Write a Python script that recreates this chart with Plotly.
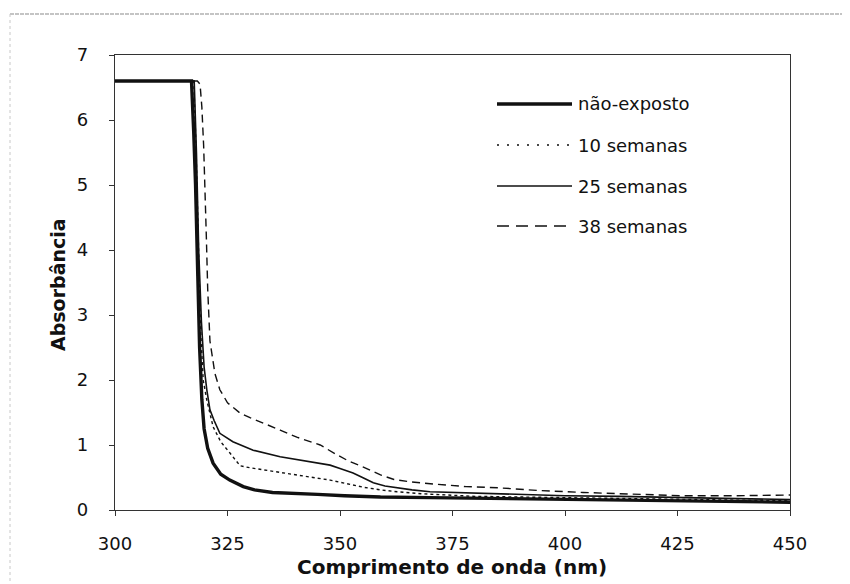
import plotly.graph_objects as go

# ---- data ----
x_nao = [300, 317.0, 317.5, 317.9, 318.4, 318.8, 319.3, 319.8, 320.6, 321.8, 323.5, 325.5, 328.5, 331,
         335, 340, 345, 351, 359, 370, 380, 390, 400, 412, 425, 438, 450]
y_nao = [6.6, 6.6, 5.8, 5.0, 3.6, 2.5, 1.7, 1.25, 0.95, 0.72, 0.55, 0.46, 0.36, 0.31,
         0.27, 0.25, 0.24, 0.22, 0.20, 0.19, 0.18, 0.17, 0.16, 0.15, 0.14, 0.13, 0.12]

x_10 = [300, 317.5, 318.0, 318.5, 319.0, 319.6, 320.4, 321.8, 323.5, 325.5, 327.8, 330, 333, 337, 340.4,
        344, 347.8, 351, 355.2, 359, 362.7, 368, 373.7, 380, 390, 400, 412, 425, 438, 450]
y_10 = [6.6, 6.6, 5.6, 4.0, 2.8, 2.0, 1.69, 1.28, 1.05, 0.88, 0.68, 0.65, 0.62, 0.58, 0.54,
        0.50, 0.46, 0.41, 0.35, 0.31, 0.28, 0.25, 0.23, 0.21, 0.20, 0.19, 0.18, 0.17, 0.15, 0.14]

x_25 = [300, 317.6, 318.1, 318.6, 319.2, 319.8, 320.4, 321.1, 322, 323.3, 326.2, 330.7, 336.7, 340, 344,
        347.8, 350, 352.9, 355, 357.4, 360, 362.7, 366, 370, 375, 380, 390, 400, 412, 425, 438, 450]
y_25 = [6.6, 6.6, 5.5, 4.0, 2.9, 2.2, 1.85, 1.54, 1.38, 1.18, 1.05, 0.92, 0.82, 0.78, 0.74,
        0.69, 0.64, 0.57, 0.50, 0.42, 0.37, 0.34, 0.31, 0.28, 0.27, 0.26, 0.24, 0.22, 0.21, 0.19, 0.17, 0.16]

x_38 = [300, 318.3, 318.9, 319.3, 319.7, 320.0, 320.3, 320.6, 321.1, 322.2, 323.3, 325, 327.8, 330, 332.9,
        336.7, 340.4, 343, 345.6, 349.3, 352, 355.2, 359, 362, 366, 370.7, 373.7, 378, 385.6, 394, 404,
        412, 425.6, 438, 450]
y_38 = [6.6, 6.6, 6.55, 6.2, 5.6, 5.0, 4.2, 3.4, 2.6, 2.1, 1.85, 1.65, 1.49, 1.42, 1.34,
        1.23, 1.12, 1.06, 1.0, 0.85, 0.75, 0.66, 0.54, 0.47, 0.43, 0.40, 0.38, 0.36, 0.34, 0.30, 0.27,
        0.25, 0.22, 0.22, 0.23]

series_names = ["não-exposto", "10 semanas", "25 semanas", "38 semanas"]
x_ticks = [300, 325, 350, 375, 400, 425, 450]
y_ticks = [0, 1, 2, 3, 4, 5, 6, 7]

# ---- layout (page has an 8px body offset) ----
OFF = 8
W, H = 850 - OFF, 584 - OFF
ML, MT = 115 - OFF, 55 - OFF
MR = W - (790 - OFF)
MB = H - (510 - OFF)
FONT = "DejaVu Sans"
INK = "#111111"

styles = [
    dict(width=3.4, dash="solid"),
    dict(width=1.4, dash="3px,3px"),
    dict(width=1.6, dash="solid"),
    dict(width=1.4, dash="8px,5px"),
]
legend_dash = ["solid", "2px,8px", "solid", "12px,7px"]

fig = go.Figure()
for name, xs, ys, st in zip(series_names, [x_nao, x_10, x_25, x_38], [y_nao, y_10, y_25, y_38], styles):
    fig.add_trace(go.Scatter(x=xs, y=ys, mode="lines", name=name,
                             line=dict(color=INK, width=st["width"], dash=st["dash"]),
                             showlegend=False))

pw, ph = W - ML - MR, H - MT - MB


def px2paper(px, py):
    """page pixel -> paper coordinates"""
    return (px - OFF - ML) / pw, (H - MB - (py - OFF)) / ph


shapes = []
annotations = []
# custom legend (long line samples like the original)
rows = [104, 145, 186, 226]
for name, py, st, dsh in zip(series_names, rows, styles, legend_dash):
    x0, y0 = px2paper(497, py)
    x1, _ = px2paper(572, py)
    shapes.append(dict(type="line", xref="paper", yref="paper", x0=x0, x1=x1, y0=y0, y1=y0,
                       line=dict(color=INK, width=st["width"] if st["width"] > 2 else 1.5, dash=dsh)))
    xt, _ = px2paper(576, py)
    annotations.append(dict(text=name, xref="paper", yref="paper", x=xt, y=y0, xanchor="left",
                            yanchor="middle", showarrow=False, font=dict(family=FONT, size=18, color=INK)))

# axis titles
tx, ty = px2paper(452, 567)
annotations.append(dict(text="<b>Comprimento de onda (nm)</b>", xref="paper", yref="paper", x=tx, y=ty,
                        xanchor="center", yanchor="middle", showarrow=False,
                        font=dict(family=FONT, size=20, color=INK)))
ax_, ay_ = px2paper(58, 285)
annotations.append(dict(text="<b>Absorbância</b>", xref="paper", yref="paper", x=ax_, y=ay_, textangle=-90,
                        xanchor="center", yanchor="middle", showarrow=False,
                        font=dict(family=FONT, size=19, color=INK)))

# scanned page frame lines
fx0, fy0 = px2paper(10, 14)
fx1, _ = px2paper(850, 14)
_, fyb = px2paper(10, 584)
shapes.append(dict(type="line", xref="paper", yref="paper", x0=fx0, x1=fx1, y0=fy0, y1=fy0,
                   line=dict(color="#8a8a8a", width=1.2, dash="4px,1px")))
shapes.append(dict(type="line", xref="paper", yref="paper", x0=fx0, x1=fx0, y0=fy0, y1=fyb,
                   line=dict(color="#c8c8c8", width=1, dash="3px,3px")))

axis_common = dict(showgrid=False, zeroline=False, showline=True, linecolor="#333333", linewidth=1.2,
                   mirror=True, ticks="outside", ticklen=5, tickcolor="#333333", tickwidth=1.2,
                   tickfont=dict(family=FONT, size=18, color=INK), automargin=False)

fig.update_layout(
    width=W, height=H,
    margin=dict(l=ML, r=MR, t=MT, b=MB, autoexpand=False),
    paper_bgcolor="white", plot_bgcolor="white",
    xaxis=dict(range=[300, 450], tickvals=x_ticks, ticktext=[str(v) for v in x_ticks],
               ticklabelstandoff=12, **axis_common),
    yaxis=dict(range=[0, 7], tickvals=y_ticks, ticktext=[str(v) for v in y_ticks],
               ticklabelstandoff=17, **axis_common),
    shapes=shapes,
    annotations=annotations,
    showlegend=False,
)

fig.write_html("out.html")
